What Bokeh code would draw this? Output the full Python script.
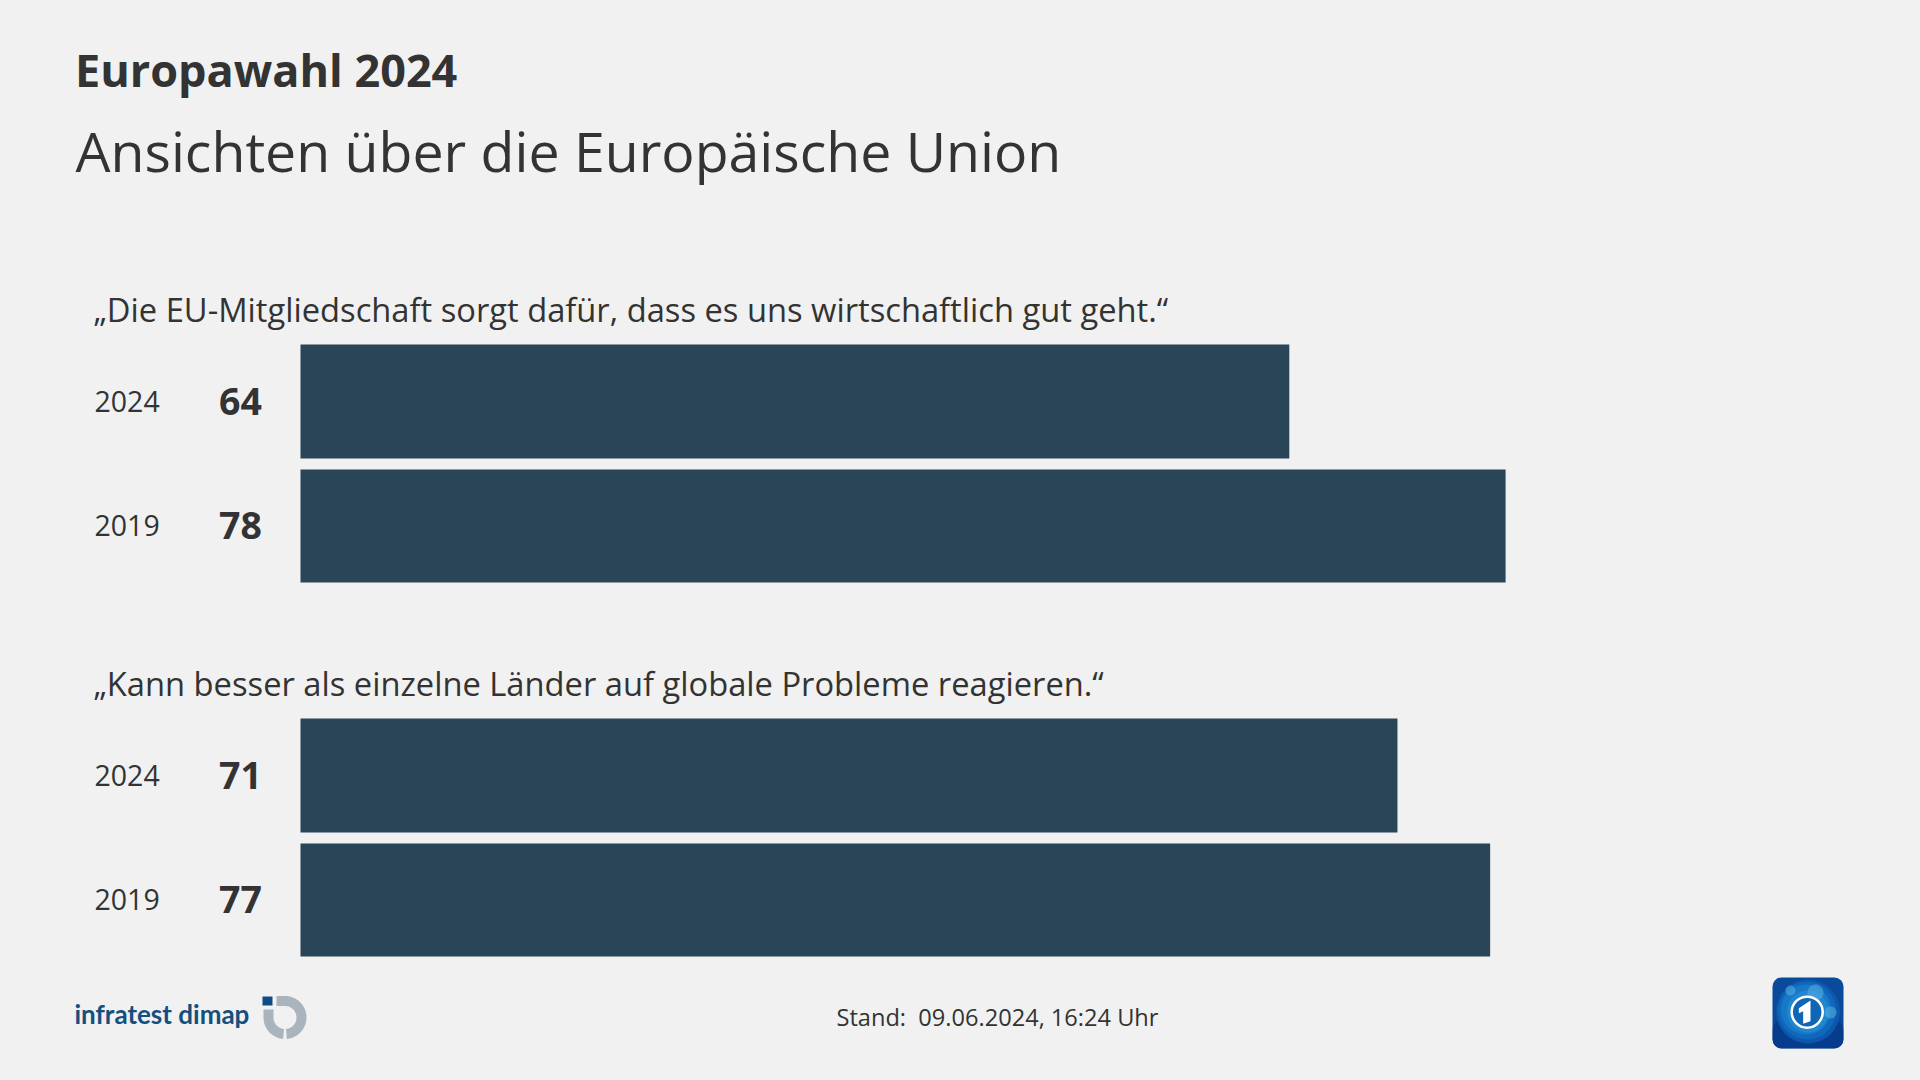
import numpy as np
from bokeh.plotting import figure
from bokeh.models import Range1d
from bokeh.core.properties import value
from bokeh.embed import file_html
from bokeh.resources import INLINE

supertitle = "Europawahl 2024"
title = "Ansichten über die Europäische Union"
questions = ["„Die EU-Mitgliedschaft sorgt dafür, dass es uns wirtschaftlich gut geht.“",
             "„Kann besser als einzelne Länder auf globale Probleme reagieren.“"]
years = ["2024", "2019", "2024", "2019"]
values = [64, 78, 71, 77]
stand = "Stand:\u00a0 09.06.2024, 16:24 Uhr"
logo_text = "infratest dimap"

BG = "#f1f1f1"
BAR = "#2b4558"
INK = "#333333"
FONT = "Open Sans"
W, H = 1920, 1080
U = 15.45  # pixels per percentage point
X0 = 300

def px(x):
    return (np.asarray(x, dtype=float) - X0) / U

p = figure(width=W, height=H, output_backend="svg", toolbar_location=None,
           x_range=Range1d(-X0 / U, (W - X0) / U), y_range=Range1d(H, 0),
           min_border=0, min_border_left=0, min_border_right=0, min_border_top=0, min_border_bottom=0,
           background_fill_color=BG, border_fill_color=BG, outline_line_color=None)
p.axis.visible = False
p.grid.visible = False

bar_tops = [344, 469, 718, 843]
bar_bottoms = [458, 582, 832, 956]
p.quad(left=[0] * 4, right=values, top=bar_tops, bottom=bar_bottoms, fill_color=BAR, line_color=None)

def txt(x, y, s, size, bold=False, align="left", color=INK, font=FONT):
    p.text([float(px(x))], [y], text=[s], text_font=value(font), text_font_size=f"{size}px",
           text_font_style="bold" if bold else "normal", text_color=color,
           text_align=align, text_baseline="middle")

txt(74.5, 69, supertitle, 45, bold=True)
txt(75, 150, title, 55.4)
txt(93, 309, questions[0], 32.7)
txt(93, 683, questions[1], 32.7)
for yc, yr, v in zip([400.5, 525, 774.5, 899], years, values):
    txt(94, yc, yr, 28.5)
    txt(240, yc, str(v), 37.5, bold=True, align="center")
txt(836, 1016.5, stand, 23.6)

def shape(xs, ys, color, alpha=1.0):
    p.patch(px(xs), ys, fill_color=color, fill_alpha=alpha, line_color=None)

def arc(cx, cy, r, a0, a1, n=40):
    t = np.radians(np.linspace(a0, a1, n))
    return cx + r * np.cos(t), cy + r * np.sin(t)

# infratest dimap logo
txt(74, 1013, logo_text, 26, bold=True, color="#14507f", font="Lato")
shape([262, 272, 272, 262], [996, 996, 1005, 1005], "#0f4c85")
cx, cy, R, r = 284.5, 1017, 21.5, 11.5
GREY = "#aab4bc"
ox, oy = arc(cx, cy, R, -90, 85)
ix, iy = arc(cx, cy, r, 85, -90)
shape(np.r_[276, ox, ix, 276], np.r_[995.5, oy, iy, 1005.5], GREY)
ox, oy = arc(cx, cy, R, 180, 95)
ix, iy = arc(cx, cy, r, 95, 180)
shape(np.r_[cx - R, ox, ix, cx - r], np.r_[1009, oy, iy, 1009], GREY)

# tagesschau logo
p.quad(left=[float(px(1772))], right=[float(px(1843))], top=[977], bottom=[1048], fill_color="#0a4a9a",
       line_color=None, border_radius=9)
p.quad(left=[float(px(1772))], right=[float(px(1843))], top=[1020], bottom=[1048], fill_color="#04327f",
       fill_alpha=0.55, line_color=None, border_radius=9)
gx, gy = float(px(1807.5)), 1011
for dr, dx, dy, c in [(32, 0, 0, "#0b58ad"), (29, -1, -1, "#0f68bb"), (25, -2, -2, "#1778c8"), (21, 0, 0, "#2186d0")]:
    p.circle([gx + dx / U], [gy + dy], radius=dr / U, fill_color=c, line_color=None)
for lcx, lcy, lr in [(1815, 992, 8), (1830, 1012, 6), (1790, 990, 5)]:
    lx, ly = arc(lcx, lcy, lr, 0, 360)
    shape(lx, ly, "#5aaee2", alpha=0.55)
rcx = float(px(1806.7))
p.circle([rcx], [1011.7], radius=15.5 / U, fill_color="#0f66b5", line_color="#ffffff", line_width=2.5)
shape(1765 + np.array([100, 135, 135, 113, 113, 100]) / 3,
      970 + np.array([113, 90, 152, 160, 122, 128]) / 3, "#ffffff")

html = file_html(p, INLINE).replace("<head>", f"<head><style>html,body{{background:{BG};margin:0;overflow:hidden}}</style>", 1)
open("out.html", "w").write(html)
